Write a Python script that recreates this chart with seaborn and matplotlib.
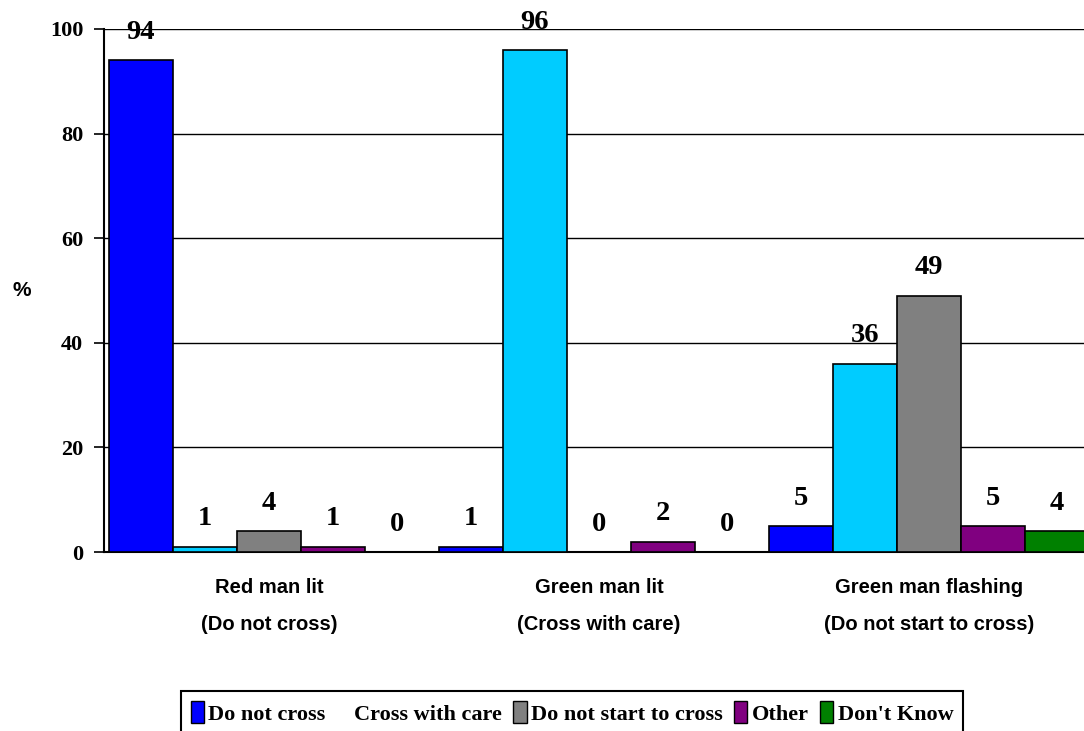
import matplotlib
matplotlib.use("Agg")
import matplotlib.pyplot as plt
import seaborn as sns
import pandas as pd
from matplotlib.patches import Patch

# Survey responses: what pedestrians think each signal means (%)
signals = ["Red man lit\n(Do not cross)",
           "Green man lit\n(Cross with care)",
           "Green man flashing\n(Do not start to cross)"]
responses = ["Do not cross", "Cross with care", "Do not start to cross",
             "Other", "Don't Know"]
do_not_cross = [94, 1, 5]
cross_with_care = [1, 96, 36]
do_not_start = [4, 0, 49]
other = [1, 2, 5]
dont_know = [0, 0, 4]
y_ticks = [0, 20, 40, 60, 80, 100]

colors = ["#0000FF", "#00CCFF", "#808080", "#800080", "#008000"]

series = [do_not_cross, cross_with_care, do_not_start, other, dont_know]
rows = []
for resp, vals in zip(responses, series):
    for sig, v in zip(signals, vals):
        rows.append({"signal": sig, "response": resp, "pct": v})
df = pd.DataFrame(rows)

sns.set_style("white")
plt.rcParams.update({"text.color": "black", "axes.labelcolor": "black",
                     "xtick.color": "black", "ytick.color": "black"})
serif = ["Liberation Serif", "DejaVu Serif"]
sans = ["Liberation Sans", "DejaVu Sans"]

fig = plt.figure(figsize=(10.84, 7.31), dpi=100)
ax = fig.add_axes([104 / 1084, 1 - 552 / 731, 990 / 1084, 523 / 731])

sns.barplot(data=df, x="signal", y="pct", hue="response",
            order=signals, hue_order=responses, palette=colors,
            width=0.97, edgecolor="black", linewidth=1.2,
            saturation=1, legend=False, ax=ax, zorder=3)

for cont in ax.containers:
    ax.bar_label(cont, fmt="%d", padding=11, fontsize=20.5, color="black",
                 fontweight="bold", family=serif, zorder=4)

ax.set_xlim(-0.5, 2.5)
ax.set_ylim(0, 100)
ax.set_yticks(y_ticks)
ax.set_yticklabels([str(t) for t in y_ticks], fontsize=16,
                   fontweight="bold", family=serif)
ax.yaxis.grid(True, color="black", linewidth=1.0, zorder=0)
ax.set_axisbelow(True)

ax.set_xticks(range(len(signals)))
ax.set_xticklabels(signals, fontsize=14.5, fontweight="bold", family=sans,
                   linespacing=2.15)
ax.set_xticks([-0.5, 0.5, 1.5, 2.5], minor=True)
ax.tick_params(axis="x", which="major", length=0, pad=19)
ax.tick_params(axis="x", which="minor", length=8, width=1.2,
               color="black", direction="out")
ax.tick_params(axis="y", which="major", length=7, width=1.2,
               color="black", direction="out", pad=8, left=True)

ax.set_xlabel("")
ax.set_ylabel("")
for side in ["top", "right"]:
    ax.spines[side].set_visible(False)
for side in ["left", "bottom"]:
    ax.spines[side].set_color("black")
    ax.spines[side].set_linewidth(1.5)

fig.text(22 / 1084, 1 - 290 / 731, "%", fontsize=15, fontweight="bold",
         family=sans, ha="center", va="center")

handles = []
for resp, c in zip(responses, colors):
    if resp == "Cross with care":
        handles.append(Patch(facecolor="none", edgecolor="none", label=resp))
    else:
        handles.append(Patch(facecolor=c, edgecolor="black", label=resp))
leg = fig.legend(handles=handles, loc="lower center", ncol=5,
                 bbox_to_anchor=(572 / 1084, -0.02),
                 prop={"family": serif, "weight": "bold", "size": 16},
                 frameon=True, fancybox=False, edgecolor="black",
                 framealpha=1,
                 handlelength=0.6, handleheight=1.1, handletextpad=0.2,
                 columnspacing=0.5, borderpad=0.45)
leg.get_frame().set_linewidth(1.5)

fig.savefig("out.png", dpi=100)
